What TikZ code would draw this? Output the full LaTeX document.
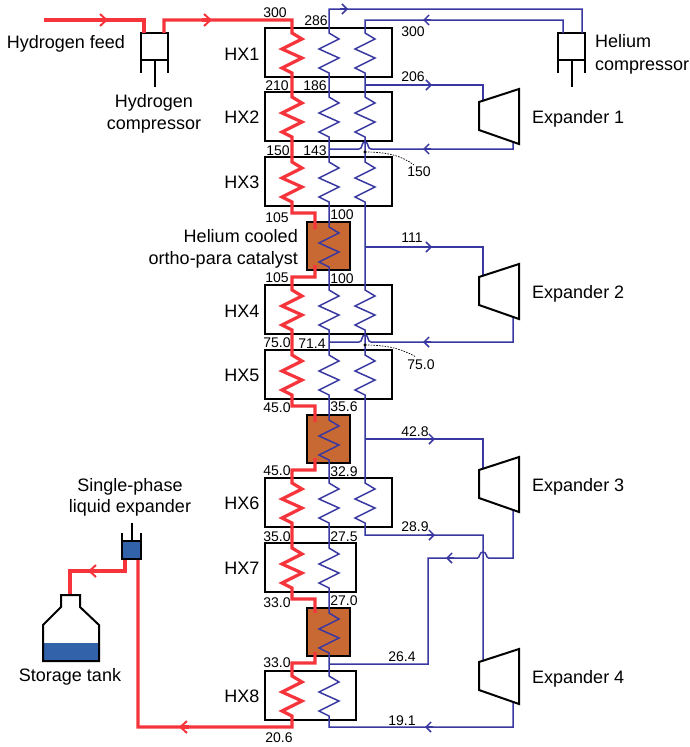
\documentclass[tikz,border=0pt]{standalone}
\usepackage{fontspec}
\setmainfont{Liberation Sans}
\usetikzlibrary{arrows.meta}
\definecolor{hred}{RGB}{245,52,60}
\definecolor{hblue}{RGB}{56,56,160}
\definecolor{catcol}{RGB}{200,105,52}
\definecolor{liq}{RGB}{50,98,170}
\tikzset{
  rl/.style={draw=hred,line width=3.2pt,line join=miter},
  bl/.style={draw=hblue,line width=1.5pt,line join=miter},
  rarr/.style={draw=hred,line width=3.2pt,-{Straight Barb[length=6.5pt,width=12pt,line width=2pt]}},
  barr/.style={draw=hblue,line width=1.5pt,-{Straight Barb[length=5pt,width=10pt,line width=1.5pt]}},
  zig/.style={to path={-- ++(0,5) -- ++(10,6) -- ++(-20,10) -- ++(20,9) -- ++(-20,10) -- ++(10,5) -- (\tikztotarget)}},
  hxbox/.style={draw=black,line width=2.2pt,anchor=north west,minimum width=127pt,minimum height=49pt,inner sep=0pt,outer sep=0pt},
  hxshort/.style={hxbox,minimum width=91pt},
  catbox/.style={draw=black,fill=catcol,line width=2pt,anchor=north west,minimum width=43pt,minimum height=48pt,inner sep=0pt,outer sep=0pt},
  compbox/.style={draw=black,line width=2pt,anchor=north west,minimum width=27pt,minimum height=27pt,inner sep=0pt,outer sep=0pt},
  mach/.style={draw=black,line width=2pt,line join=miter,fill=white},
  thin1/.style={draw=black,line width=2pt},
  num/.style={font=\fontsize{14}{16}\selectfont,inner sep=0pt,text height=10pt,text depth=0pt},
  lab/.style={font=\fontsize{18}{22}\selectfont,inner sep=0pt,text height=12.9pt,text depth=0pt},
  dotline/.style={draw=black,line width=0.7pt,dash pattern=on 1.6pt off 1.2pt},
}
\begin{document}
\begin{tikzpicture}[x=1pt,y=-1pt]
\useasboundingbox (0,0) rectangle (690,747);
% stream columns
\coordinate (R) at (292,0);
\coordinate (A) at (329,0);
\coordinate (C) at (365,0);
% heat exchangers
\node[hxbox] (HX1) at (265,28) {};
\node[hxbox] (HX2) at (265,92) {};
\node[hxbox] (HX3) at (265,157) {};
\node[hxbox] (HX4) at (265,285) {};
\node[hxbox] (HX5) at (265,350) {};
\node[hxbox] (HX6) at (265,478) {};
\node[hxshort] (HX7) at (265,543) {};
\node[hxshort] (HX8) at (265,671) {};
\node[catbox] (C1) at (307,222) {};
\node[catbox] (C2) at (307,415) {};
\node[catbox] (C3) at (307,608) {};
% compressors
\node[compbox] (HC) at (141,33) {};
\node[compbox] (HeC) at (558,33) {};
\foreach \c in {HC,HeC}{
  \draw[thin1] (\c.south west) -- ++(0,13);
  \draw[thin1] (\c.south east) -- ++(0,13);
  \draw[thin1] (\c.south) -- ++(0,27);
}
% named points
\coordinate (feed) at (44,20);
\coordinate (hin) at (144,33);
\coordinate (hout) at (164,33);
\coordinate (ar1) at (108,20);
\coordinate (ar2) at (212,20);
% hydrogen stream
\draw[rl] (feed) -- (feed -| hin) -- (hin);
\draw[rarr] (98,20) -- (ar1);
\draw[rl] (hout) -- (hout |- ar2) -- (R |- ar2) -- (R |- HX1.north) to[zig] (R |- HX1.south)
  -- (R |- HX2.north) to[zig] (R |- HX2.south) -- (R |- HX3.north) to[zig] (R |- HX3.south) -- (292,213) -- (315,213) -- (315,229);
\draw[rarr] (202,20) -- (ar2);
\draw[rl] (315,265) -- (315,277) -- (292,277) -- (R |- HX4.north) to[zig] (R |- HX4.south)
  -- (R |- HX5.north) to[zig] (R |- HX5.south) -- (292,406) -- (315,406) -- (315,422);
\draw[rl] (315,458) -- (315,470) -- (292,470) -- (R |- HX6.north) to[zig] (R |- HX6.south)
  -- (R |- HX7.north) to[zig] (R |- HX7.south) -- (292,599) -- (315,599) -- (315,613);
\coordinate (lin) at (138,559);
\coordinate (lout) at (125,559);
\coordinate (tankin) at (70,595);
\coordinate (ar3) at (179,727);
\coordinate (ar4) at (88,571);
\draw[rl] (315,652) -- (315,663) -- (292,663) -- (R |- HX8.north) to[zig] (R |- HX8.south) -- (292,727) -- (138,727) -- (lin);
\draw[rarr] (189,727) -- (ar3);
\draw[rl] (lout) -- (125,571) -- (70,571) -- (tankin);
\draw[rarr] (98,571) -- (ar4);
% helium stream A (left column)
\draw[bl] (582,33) -- (582,9) -- (329,9) -- (A |- HX1.north) to[zig] (A |- HX1.south)
  -- (A |- HX2.north) to[zig] (A |- HX2.south) -- (A |- HX3.north) to[zig] (A |- HX3.south)
  -- (A |- C1.north) to[zig] (A |- C1.south) -- (A |- HX4.north) to[zig] (A |- HX4.south)
  -- (A |- HX5.north) to[zig] (A |- HX5.south) -- (A |- C2.north) to[zig] (A |- C2.south)
  -- (A |- HX6.north) to[zig] (A |- HX6.south) -- (A |- HX7.north) to[zig] (A |- HX7.south)
  -- (A |- C3.north) to[zig] (A |- C3.south) -- (A |- HX8.north) to[zig] (A |- HX8.south)
  -- (329,727) -- (513,727) -- (513,700);
\draw[barr] (340,9) -- (348,9);
\draw[barr] (433,727) -- (425,727);
% helium stream C (right column)
\draw[bl] (563,33) -- (563,20) -- (365,20) -- (C |- HX1.north) to[zig] (C |- HX1.south)
  -- (C |- HX2.north) to[zig] (C |- HX2.south) -- (C |- HX3.north) to[zig] (C |- HX3.south)
  -- (C |- HX4.north) to[zig] (C |- HX4.south) -- (C |- HX5.north) to[zig] (C |- HX5.south)
  -- (C |- HX6.north) to[zig] (C |- HX6.south) -- (365,535) -- (483,535) -- (483,665);
\draw[barr] (431,20) -- (423,20);
\draw[barr] (427,535) -- (435,535);
% branches to expanders
\foreach \yb/\ye/\ya in {85/104/432,247/279/432,439/472/435}{
  \draw[bl] (365,\yb) -- (483,\yb) -- (483,\ye);
  \draw[barr] (\ya-8,\yb) -- (\ya,\yb);
}
% returns from expanders 1 and 2
\foreach \y/\s in {149/140,342/315}{
  \draw[bl] (513,\s) -- (513,\y) -- (371,\y) .. controls (367,\y) and (369,\y-7) .. (365,\y-7) .. controls (361,\y-7) and (363,\y) .. (359,\y) -- (329,\y);
  \draw[barr] (431,\y) -- (423,\y);
  \fill[black] (365,\y+3) circle (1.6pt);
}
\draw[dotline] (365,152) .. controls (388,152) and (402,156) .. (414,165);
\draw[dotline] (365,345) .. controls (388,345) and (402,349) .. (416,357);
% return from expander 3
\draw[bl] (513,505) -- (513,558) -- (488.5,558) .. controls (486,558) and (487,552) .. (483,552) .. controls (479,552) and (480,558) .. (477.5,558) -- (428,558) -- (428,664) -- (329,664);
\draw[barr] (454,558) -- (446,558);
% expanders
\foreach \d/\n in {0/1,175/2,368/3,560/4}{
  \draw[mach] (479,102+\d) -- (519,89+\d) -- (519,144+\d) -- (479,130+\d) -- cycle;
  \node[lab,anchor=west] (E\n) at (532,117.5+\d) {Expander \n};
}
% liquid expander
\node[draw=black,fill=liq,line width=2pt,anchor=north west,minimum width=19pt,minimum height=18pt,inner sep=0pt,outer sep=0pt] (LE) at (122,541) {};
\draw[thin1] (LE.north west) -- ++(0,-8);
\draw[thin1] (LE.north east) -- ++(0,-8);
\draw[thin1] (LE.north) -- ++(0,-18);
% storage tank
\fill[liq] (43,643) rectangle (99,661);
\draw[draw=black,line width=2pt,line join=miter] (61,595) -- (80,595) -- (80,607) -- (99,625) -- (99,661) -- (43,661) -- (43,625) -- (61,607) -- cycle;
% names
\node[lab] (n1) at (242,54) {HX1};
\node[lab] (n2) at (242,117) {HX2};
\node[lab] (n3) at (242,182) {HX3};
\node[lab] (n4) at (242,311) {HX4};
\node[lab] (n5) at (242,375) {HX5};
\node[lab] (n6) at (242,503) {HX6};
\node[lab] (n7) at (242,568) {HX7};
\node[lab] (n8) at (242,696) {HX8};
\node[lab] (tf) at (66,42.5) {Hydrogen feed};
\node[lab] (t2) at (154,101) {Hydrogen};
\node[lab] (t3) at (154,123) {compressor};
\node[lab,anchor=west] (t4) at (595,41) {Helium};
\node[lab,anchor=west] (t5) at (595,64) {compressor};
\node[lab,anchor=east] (t6) at (298,236.5) {Helium cooled};
\node[lab,anchor=east] (t7) at (298,258.5) {ortho-para catalyst};
\node[lab] (t8) at (130,485) {Single-phase};
\node[lab] (t9) at (130,506.5) {liquid expander};
\node[lab] (t10) at (70,675.5) {Storage tank};
% numbers
\foreach \x/\y/\t [count=\i] in {
 275/12/300,316/20/286,413/31/300,277/85/210,315/85/186,413/76/206,
 278/150/150,315/150/143,419/171/150,277/217/105,342/214/100,277/277/105,342/278/100,
 412/237/111,277/342/75.0,312/343/71.4,421/364/75.0,277/407/45.0,344/406/35.6,
 277/470/45.0,344/471/32.9,415/431/42.8,277/536/35.0,344/536/27.5,415/526/28.9,
 277/602/33.0,344/600/27.0,277/662/33.0,402/656/26.4,402/720/19.1,279/737/20.6}{
  \node[num] (v\i) at (\x,\y) {\t};
}
\end{tikzpicture}
\end{document}
